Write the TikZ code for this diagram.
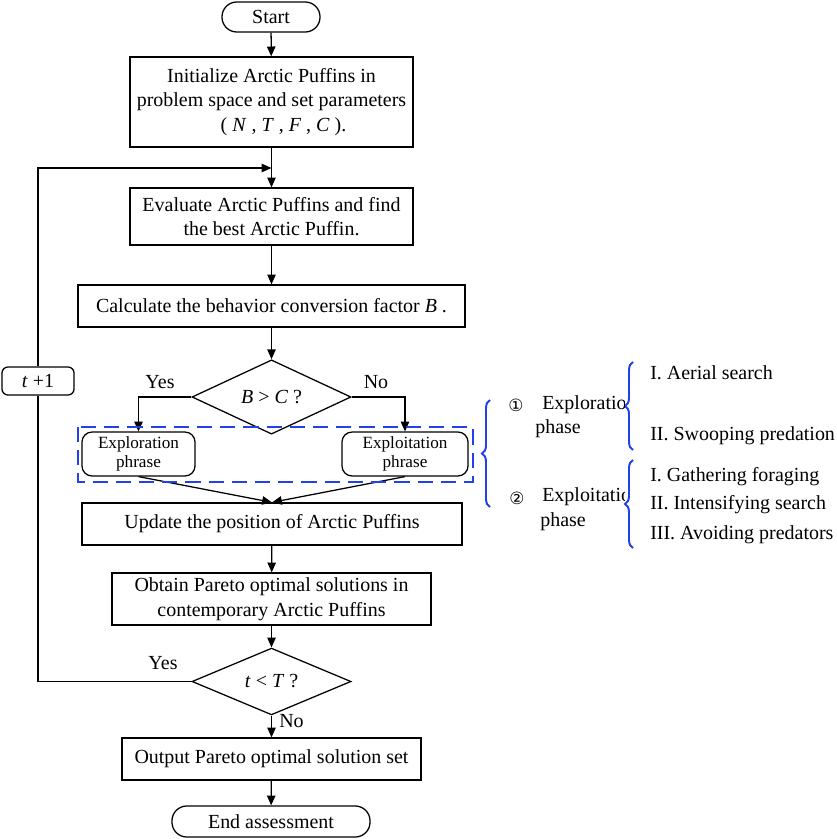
\documentclass[tikz,border=0pt]{standalone}
\usepackage{fontspec}
\setmainfont{Liberation Serif}
\newfontfamily\symfont{DejaVu Sans}
\usetikzlibrary{shapes}
\usetikzlibrary{calc}
\usetikzlibrary{arrows.meta}
\usetikzlibrary{decorations.pathreplacing}
\definecolor{braceblue}{RGB}{35,65,235}
\tikzset{
  flow/.style={draw, line width=0.9pt, -{Triangle[length=7pt,width=6pt]}},
  procbox/.style={draw, rectangle, line width=0.9pt, align=center, inner sep=2pt},
  termbox/.style={draw, rectangle, rounded corners=0.37cm, line width=0.9pt, align=center},
  phasebox/.style={draw, rectangle, rounded corners=0.25cm, line width=0.9pt, align=center,
    font=\fontsize{12.2}{13.5}\selectfont},
  decbox/.style={draw, diamond, line width=0.9pt, inner sep=0pt},
  bluebrace/.style={draw=braceblue, line width=1.4pt, decorate, decoration={brace, amplitude=0.2cm}}
}
\begin{document}
\begin{tikzpicture}[x=0.025cm, y=-0.025cm, font=\fontsize{14.2}{17.4}\selectfont]
  \useasboundingbox (0,0) rectangle (836,839);

  \node[termbox, minimum width=2.45cm, minimum height=0.75cm] (start) at (271,17) {Start};
  \node[procbox, minimum width=7.075cm, minimum height=2.25cm] (init) at (271.5,102)
    {Initialize Arctic Puffins in\\problem space and set parameters\\
     \hspace*{1.2em}( \textit{N} , \textit{T} , \textit{F} , \textit{C} ).};
  \node[procbox, minimum width=7.075cm, minimum height=1.425cm] (eval) at (271.5,216.5)
    {Evaluate Arctic Puffins and find\\the best Arctic Puffin.};
  \node[procbox, minimum width=9.675cm, minimum height=1.05cm] (calc) at (271.5,306)
    {Calculate the behavior conversion factor \textit{B} .};
  \node[decbox, minimum width=3.975cm, minimum height=1.425cm] (cond1) at (271.5,397)
    {\textit{B} > \textit{C} ?};
  \node[phasebox, minimum width=2.825cm, minimum height=1.05cm] (explor) at (138.5,454)
    {Exploration\\phrase};
  \node[phasebox, minimum width=3.15cm, minimum height=1.05cm] (exploit) at (405,454)
    {Exploitation\\phrase};
  \node[procbox, minimum width=9.5cm, minimum height=1.05cm] (update) at (272,524)
    {Update the position of Arctic Puffins};
  \node[procbox, minimum width=7.975cm, minimum height=1.3cm] (obtain) at (271.5,599)
    {Obtain Pareto optimal solutions in\\contemporary Arctic Puffins};
  \node[decbox, minimum width=3.975cm, minimum height=1.425cm] (cond2) at (271.5,681.5)
    {\textit{t} < \textit{T} ?};
  \node[procbox, minimum width=7.475cm, minimum height=1.05cm] (output) at (271.5,759)
    {Output Pareto optimal solution set};
  \node[termbox, minimum width=4.95cm, minimum height=0.775cm] (finish) at (271,821.5)
    {End assessment};
  \node[termbox, rounded corners=0.15cm, minimum width=1.8cm, minimum height=0.7cm] (tnext) at (38,381)
    {\textit{t} +1};

  \coordinate (join) at (271.5,168);

  \path[flow] (start) -- (init);
  \path[flow] (init) -- (eval);
  \path[flow] (eval) -- (calc);
  \path[flow] (calc) -- (cond1);
  \path[flow] (cond1.west) -| (explor.north);
  \path[flow] (cond1.east) -| (exploit.north);
  \path[flow] (explor.south) -- (update.north);
  \path[flow] (exploit.south) -- (update.north);
  \path[flow] (update) -- (obtain);
  \path[flow] (obtain) -- (cond2);
  \path[flow] (cond2) -- (output);
  \path[flow] (output) -- (finish);
  \draw[line width=0.9pt] (cond2.west) -| (tnext.south);
  \path[flow] (tnext.north) |- (join);

  \node (yes1) at (160,382) {Yes};
  \node (no1) at (376,382) {No};
  \node (yes2) at (163,663) {Yes};
  \node[anchor=west, inner sep=0pt] (no2) at (279,721) {No};

  \draw[braceblue, line width=1.1pt, dash pattern=on 0.38cm off 0.2cm] (78,427) rectangle (473,482);

  % phase summary on the right
  \draw[bluebrace] (490,507) -- (490,400);
  \draw[bluebrace] (633,450) -- (633,362);
  \draw[bluebrace] (633,548) -- (633,460);

  \node (mark1) at (516,405) {\symfont\fontsize{12}{14}\selectfont ①};
  \node (mark2) at (517,498) {\symfont\fontsize{12}{14}\selectfont ②};
  \begin{scope}
    \clip (530,380) rectangle (624,520);
    \node[anchor=west, inner sep=0pt] (explortxt) at (542,405) {Exploration};
    \node[anchor=west, inner sep=0pt] (exploittxt) at (542,497) {Exploitation};
  \end{scope}
  \node[anchor=west, inner sep=0pt] (phase1) at (535,429) {phase};
  \node[anchor=west, inner sep=0pt] (phase2) at (540,522) {phase};

  \node[anchor=west, inner sep=0pt] (aerial) at (650,373) {I. Aerial search};
  \node[anchor=west, inner sep=0pt] (swoop) at (650,436) {II. Swooping predation};
  \node[anchor=west, inner sep=0pt] (gather) at (650,477) {I. Gathering foraging};
  \node[anchor=west, inner sep=0pt] (intens) at (650,505) {II. Intensifying search};
  \node[anchor=west, inner sep=0pt] (avoid) at (650,535) {III. Avoiding predators};
\end{tikzpicture}
\end{document}
